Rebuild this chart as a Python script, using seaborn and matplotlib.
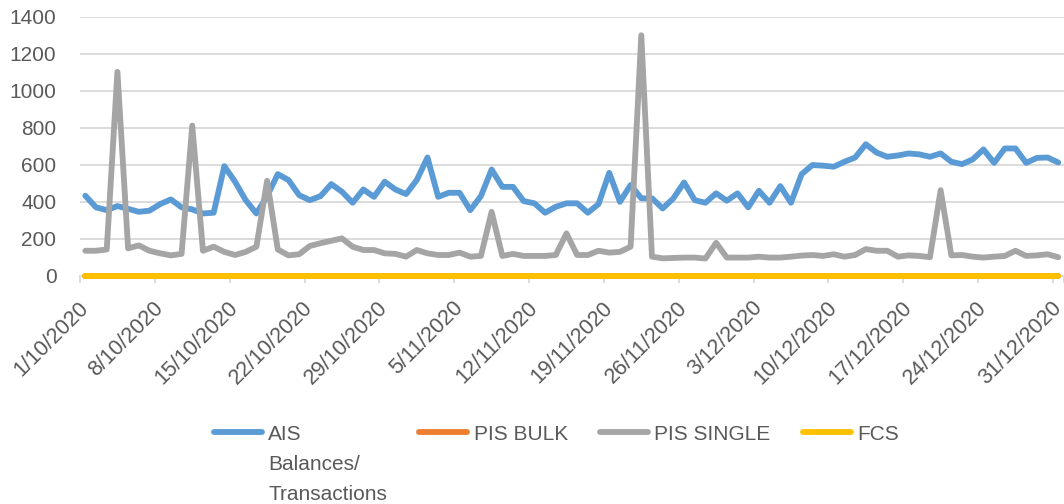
import numpy as np
import pandas as pd
import matplotlib
matplotlib.use("Agg")
import matplotlib.pyplot as plt
from matplotlib.lines import Line2D
import seaborn as sns

# ---------------- data ----------------
dates = pd.date_range("2020-10-01", "2020-12-31", freq="D")
date_labels = [f"{d.day}/{d.month}/{d.year}" for d in dates]

ais = [432, 369, 354, 376, 361, 345, 351, 387, 412, 369, 358, 336, 340, 592, 508, 408, 336, 430, 549, 517, 435, 408,
       430, 495, 454, 394, 466, 426, 508, 466, 441, 517, 639, 426, 448, 448, 354, 430, 574, 480, 480, 403, 391, 340, 372,
       391, 391, 340, 387, 556, 399, 490, 418, 418, 363, 418, 504, 408, 394, 445, 405, 445, 369, 459, 394, 484, 394,
       549, 598, 595, 589, 616, 639, 711, 666, 643, 650, 661, 656, 643, 661, 616, 603, 629, 683, 610, 688, 688, 610,
       637, 639, 612]
pis_single = [134, 134, 141, 1103, 147, 163, 134, 120, 109, 117, 812, 134, 156, 128, 111, 128, 156, 513, 141, 109, 115, 160,
              175, 188, 201, 156, 138, 138, 120, 117, 102, 138, 120, 111, 111, 124, 102, 106, 345, 106, 117, 106, 106, 106, 111,
              228, 111, 111, 134, 124, 128, 156, 1301, 102, 93, 95, 97, 97, 92, 177, 97, 97, 97, 102, 97, 97, 102,
              108, 111, 106, 115, 102, 111, 143, 134, 134, 102, 109, 106, 99, 462, 109, 111, 102, 97, 102, 106, 134, 106,
              109, 115, 99]
pis_bulk = [0] * len(dates)
fcs = [0] * len(dates)

series_names = ["AIS\nBalances/\nTransactions", "PIS BULK", "PIS SINGLE", "FCS"]
series_values = [ais, pis_bulk, pis_single, fcs]
colors = ["#5B9BD5", "#ED7D31", "#A5A5A5", "#FFC000"]
y_ticks = [0, 200, 400, 600, 800, 1000, 1200, 1400]

frames = []
for name, vals in zip(series_names, series_values):
    frames.append(pd.DataFrame({"day": np.arange(len(dates)), "value": vals, "series": name}))
df = pd.concat(frames, ignore_index=True)

# ---------------- style ----------------
sns.set_theme(style="white")
plt.rcParams["font.family"] = ["Liberation Sans", "DejaVu Sans"]
text_color = "#595959"
grid_color = "#D9D9D9"
fs = 15

fig = plt.figure(figsize=(10.64, 5.04), dpi=100)
W, H = 1064, 504
left, right, top, bottom = 80, 1063.6, 17, 275.5
ax = fig.add_axes([left / W, 1 - bottom / H, (right - left) / W, (bottom - top) / H])

lw = 4.2
sns.lineplot(data=df, x="day", y="value", hue="series", hue_order=series_names,
             palette=dict(zip(series_names, colors)), linewidth=lw, ax=ax, legend=False,
             estimator=None, sort=False)
for ln in ax.get_lines():
    ln.set_clip_on(False)
    ln.set_solid_capstyle("round")
    ln.set_solid_joinstyle("round")
    ln.set_zorder(3)

ax.set_xlim(-0.5, len(dates) - 0.5)
ax.set_ylim(0, 1400)
ax.set_yticks(y_ticks)
ax.set_yticklabels([str(v) for v in y_ticks])
ax.grid(axis="y", color=grid_color, linewidth=1.3)
ax.set_axisbelow(True)
for s in ["top", "right", "left"]:
    ax.spines[s].set_visible(False)
ax.spines["bottom"].set_color(grid_color)
ax.spines["bottom"].set_linewidth(1.3)
ax.spines["bottom"].set_zorder(1)

ax.tick_params(axis="y", length=0, pad=17, labelsize=fs, labelcolor=text_color)

major_pos = list(range(0, len(dates), 7))
ax.set_xticks(major_pos)
ax.set_xticklabels([date_labels[i] for i in major_pos])
ax.set_xticks([p - 0.5 for p in major_pos] + [len(dates) - 0.5], minor=True)
ax.tick_params(axis="x", which="major", length=0, pad=21, labelsize=15.5, labelcolor=text_color)
ax.tick_params(axis="x", which="minor", length=5, width=1.3, color=grid_color, direction="out", bottom=True)
for lab in ax.get_xticklabels():
    lab.set_rotation(45)
    lab.set_ha("right")
    lab.set_va("center")
    lab.set_rotation_mode("anchor")
ax.set_xlabel("")
ax.set_ylabel("")

handles = [Line2D([0], [0], color=c, lw=lw, solid_capstyle="round") for c in colors]
leg = fig.legend(handles, series_names, loc="upper left", bbox_to_anchor=(214 / W, 1 - 425 / H),
                 ncol=4, frameon=False, fontsize=fs, handlelength=2.3, handletextpad=0.3,
                 columnspacing=1.55, borderpad=0, borderaxespad=0)
for t in leg.get_texts():
    t.set_color(text_color)
    t.set_linespacing(1.72)
try:
    hb = leg._legend_handle_box
    hb.align = "top"
    for col in hb.get_children():
        col.align = "top"
        for row in col.get_children():
            row.align = "top"
except Exception:
    pass

fig.savefig("out.png", dpi=100)
